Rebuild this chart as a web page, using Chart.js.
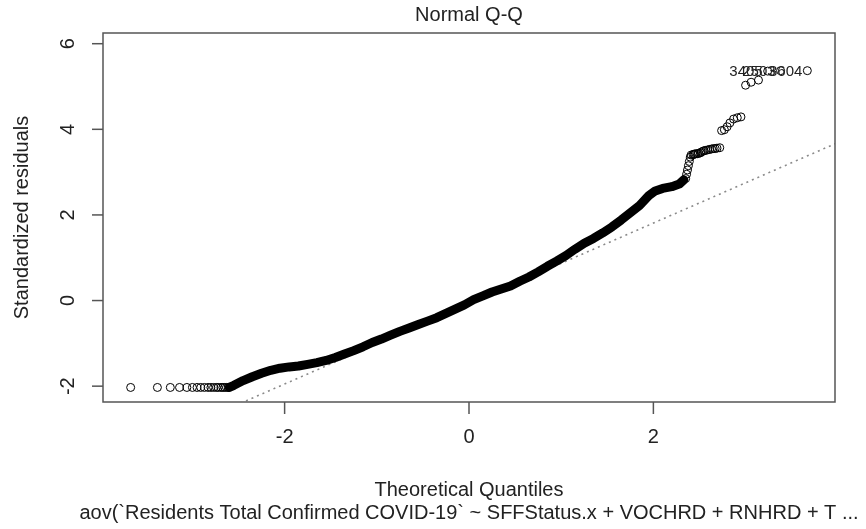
<!DOCTYPE html>
<html>
<head>
<meta charset="utf-8">
<script src="https://cdn.jsdelivr.net/npm/chart.js@4/dist/chart.umd.min.js"></script>
<style>
html,body{margin:0;padding:0;background:#fff;}
#wrap{width:866px;height:529px;}
</style>
</head>
<body>
<div id="wrap"><canvas id="c" width="866" height="529"></canvas></div>
<script>
// ---- data ----
const mainTitle = "Normal Q-Q";
const xTitle = "Theoretical Quantiles";
const yTitle = "Standardized residuals";
const subTitle = "aov(`Residents Total Confirmed COVID-19` ~ SFFStatus.x + VOCHRD + RNHRD + T ...";
const xTicks = [-2, 0, 2];
const yTicks = [-2, 0, 2, 4, 6];

// lower tail: separate circles (theoretical quantile, std residual)
const lowTailX = [-3.67,-3.38,-3.24,-3.14,-3.06,-3.00,-2.95,-2.91,-2.87,-2.83,-2.80,-2.77,-2.74,-2.72,-2.69,-2.67,-2.65,-2.63,-2.61];
const lowTailY = [-2.03,-2.03,-2.03,-2.03,-2.03,-2.03,-2.03,-2.03,-2.03,-2.03,-2.03,-2.03,-2.03,-2.03,-2.03,-2.03,-2.03,-2.03,-2.03];

// dense body of the Q-Q cloud
const bodyX = [-2.60,-2.55,-2.45,-2.35,-2.25,-2.15,-2.05,-1.95,-1.85,-1.75,-1.65,-1.55,-1.45,-1.35,-1.25,-1.15,-1.05,-0.95,-0.85,-0.75,-0.65,-0.55,-0.45,-0.35,-0.25,-0.15,-0.05,0.05,0.15,0.25,0.35,0.45,0.55,0.65,0.75,0.85,0.95,1.05,1.15,1.25,1.35,1.45,1.55,1.65,1.75,1.85,1.95,2.02,2.10,2.20,2.28,2.33];
const bodyY = [-2.03,-1.98,-1.87,-1.78,-1.70,-1.63,-1.58,-1.55,-1.53,-1.49,-1.45,-1.40,-1.33,-1.25,-1.17,-1.08,-0.98,-0.90,-0.81,-0.72,-0.64,-0.56,-0.48,-0.40,-0.30,-0.20,-0.10,0.02,0.11,0.20,0.27,0.34,0.45,0.55,0.67,0.80,0.92,1.05,1.20,1.34,1.45,1.58,1.72,1.88,2.05,2.22,2.45,2.56,2.62,2.66,2.72,2.82];

// upper tail: separate circles
const upTailX = [2.35,2.36,2.37,2.38,2.39,2.40,2.41,2.43,2.44,2.45,2.46,2.48,2.49,2.51,2.52,2.54,2.55,2.57,2.59,2.61,2.63,2.65,2.67,2.69,2.72,2.74,2.77,2.80,2.83,2.87,2.91,2.95,3.00,3.06,3.14,3.24,3.38,3.67];
const upTailY = [2.85,2.95,3.05,3.15,3.25,3.35,3.40,3.41,3.42,3.42,3.43,3.43,3.44,3.45,3.47,3.49,3.50,3.51,3.52,3.53,3.54,3.55,3.55,3.56,3.57,3.97,3.99,4.06,4.15,4.24,4.27,4.29,5.03,5.10,5.15,5.36,5.37,5.37];

// identified observations and their labels
const idLabels = ["3405", "2503", "3604"];
const idX = [3.24, 3.38, 3.67];
const idY = [5.36, 5.37, 5.37];

// qqline (through the quartiles)
const qqIntercept = -0.07;
const qqSlope = 0.94;

const xMin = -3.97, xMax = 3.97, yMin = -2.37, yMax = 6.25;

// ---- chart ----
const pts = (xs, ys) => xs.map((x, i) => ({x: x, y: ys[i]}));
const FONT = '"Liberation Sans", Arial, Helvetica, sans-serif';

const decor = {
  id: 'decor',
  afterDraw(chart) {
    const ctx = chart.ctx, a = chart.chartArea;
    const xs = chart.scales.x, ys = chart.scales.y;
    ctx.save();
    // box
    ctx.strokeStyle = '#555';
    ctx.lineWidth = 1.5;
    ctx.strokeRect(a.left, a.top, a.right - a.left, a.bottom - a.top);
    // ticks
    ctx.fillStyle = '#222';
    ctx.font = '20px ' + FONT;
    ctx.textAlign = 'center';
    ctx.textBaseline = 'middle';
    xTicks.forEach(v => {
      const px = xs.getPixelForValue(v);
      ctx.beginPath(); ctx.moveTo(px, a.bottom); ctx.lineTo(px, a.bottom + 12); ctx.stroke();
      ctx.fillText(String(v), px, 437);
    });
    yTicks.forEach(v => {
      const py = ys.getPixelForValue(v);
      ctx.beginPath(); ctx.moveTo(a.left, py); ctx.lineTo(a.left - 11, py); ctx.stroke();
      ctx.save(); ctx.translate(68, py); ctx.rotate(-Math.PI / 2);
      ctx.fillText(String(v), 0, 0); ctx.restore();
    });
    // titles
    ctx.fillText(mainTitle, (a.left + a.right) / 2, 15);
    ctx.fillText(xTitle, (a.left + a.right) / 2, 490);
    ctx.fillText(subTitle, (a.left + a.right) / 2, 513);
    ctx.save(); ctx.translate(22, (a.top + a.bottom) / 2); ctx.rotate(-Math.PI / 2);
    ctx.fillText(yTitle, 0, 0); ctx.restore();
    // id labels (to the left of their points)
    ctx.font = '15px ' + FONT;
    ctx.textAlign = 'right';
    ctx.fillStyle = '#222';
    idLabels.forEach((t, i) => {
      ctx.fillText(t, xs.getPixelForValue(idX[i]) - 5, ys.getPixelForValue(idY[i]) + 1);
    });
    ctx.restore();
  }
};

new Chart(document.getElementById('c'), {
  type: 'scatter',
  data: {
    datasets: [
      {
        label: 'qqline',
        order: 5,
        data: [{x: xMin, y: qqIntercept + qqSlope * xMin}, {x: xMax, y: qqIntercept + qqSlope * xMax}],
        showLine: true, pointRadius: 0, borderColor: '#8a8a8a', borderWidth: 1.6,
        borderDash: [2, 4], fill: false
      },
      {
        label: 'body',
        order: 1,
        data: pts(bodyX, bodyY),
        showLine: true, pointRadius: 0, borderColor: '#000', borderWidth: 9,
        borderCapStyle: 'round', borderJoinStyle: 'round', fill: false, tension: 0
      },
      {
        label: 'lower tail',
        order: 0,
        data: pts(lowTailX, lowTailY),
        pointRadius: 4, pointStyle: 'circle', borderColor: '#000', borderWidth: 1,
        backgroundColor: 'rgba(0,0,0,0)'
      },
      {
        label: 'upper tail',
        order: 0,
        data: pts(upTailX, upTailY),
        pointRadius: 4, pointStyle: 'circle', borderColor: '#000', borderWidth: 1,
        backgroundColor: 'rgba(0,0,0,0)'
      }
    ]
  },
  options: {
    responsive: false,
    animation: false,
    devicePixelRatio: 1,
    layout: { padding: { left: 103, right: 31, top: 33, bottom: 127 } },
    plugins: { legend: { display: false }, tooltip: { enabled: false }, title: { display: false } },
    scales: {
      x: { type: 'linear', min: xMin, max: xMax, display: false },
      y: { type: 'linear', min: yMin, max: yMax, display: false }
    }
  },
  plugins: [decor]
});
</script>
</body>
</html>
